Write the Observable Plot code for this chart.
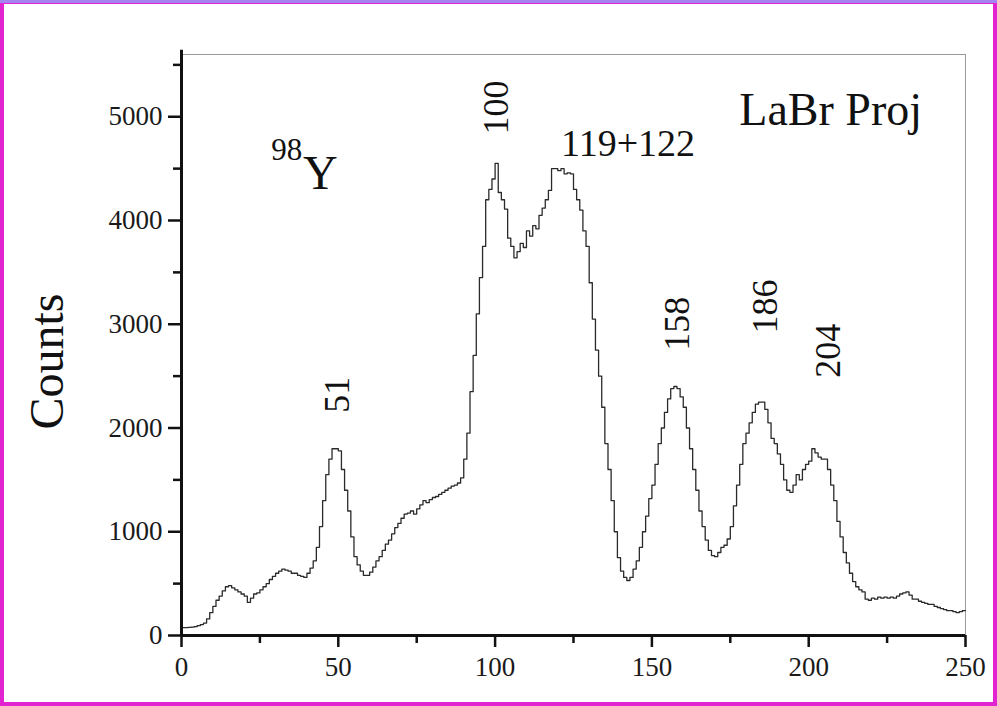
<!DOCTYPE html>
<html>
<head>
<meta charset="utf-8">
<script src="https://cdn.jsdelivr.net/npm/d3@7"></script>
<script src="https://cdn.jsdelivr.net/npm/@observablehq/plot@0.6"></script>
<style>
  html, body { margin: 0; padding: 0; background: #fff; }
  #wrap { position: relative; width: 997px; height: 706px; overflow: hidden; }
  #border { position: absolute; left: 0; top: 0; right: 0; bottom: 0; border: 4px solid #e223d2; box-sizing: border-box; pointer-events: none; }
  #topband { position: absolute; left: 0; top: 0; right: 0; height: 3px; background: #a384f0; pointer-events: none; }
  #wrap svg text { font-family: 'Liberation Serif', 'Times New Roman', serif; }
</style>
</head>
<body>
<div id="wrap"></div>
<script>
// ---- data ----
const channelStart = 0;
const counts = [
  75, 75, 78, 80, 85, 95, 105, 120, 160, 220,
  280, 340, 380, 430, 470, 480, 460, 440, 420, 400,
  380, 320, 360, 400, 410, 440, 470, 500, 540, 570,
  600, 620, 640, 630, 620, 600, 600, 580, 570, 560,
  600, 650, 720, 850, 1050, 1300, 1550, 1700, 1800, 1800,
  1780, 1600, 1400, 1200, 950, 760, 680, 620, 580, 580,
  610, 660, 720, 760, 820, 880, 920, 980, 1040, 1080,
  1130, 1170, 1180, 1200, 1170, 1220, 1260, 1300, 1280, 1310,
  1330, 1340, 1360, 1380, 1400, 1420, 1440, 1450, 1470, 1520,
  1700, 1950, 2350, 2700, 3100, 3450, 3750, 4200, 4300, 4400,
  4550, 4270, 4200, 4110, 3830, 3750, 3640, 3700, 3780, 3740,
  3900, 3850, 3950, 3920, 4050, 4120, 4200, 4290, 4500, 4500,
  4480, 4500, 4450, 4460, 4450, 4300, 4200, 4100, 3900, 3750,
  3400, 3050, 2750, 2500, 2200, 1850, 1600, 1300, 1000, 750,
  620, 560, 530, 560, 640, 720, 850, 1000, 1150, 1320,
  1450, 1650, 1850, 2000, 2150, 2280, 2380, 2400, 2380, 2300,
  2200, 2000, 1800, 1600, 1400, 1200, 1050, 920, 820, 770,
  760, 800, 850, 870, 930, 1050, 1250, 1450, 1650, 1850,
  1950, 2050, 2150, 2230, 2250, 2250, 2180, 2050, 1900, 1850,
  1750, 1650, 1500, 1400, 1380, 1450, 1550, 1500, 1600, 1650,
  1680, 1800, 1760, 1720, 1700, 1700, 1600, 1450, 1300, 1100,
  950, 800, 700, 600, 520, 470, 440, 420, 350, 340,
  360, 350, 370, 360, 370, 360, 370, 360, 380, 400,
  410, 420, 390, 350, 350, 330, 320, 310, 300, 300,
  280, 270, 260, 250, 240, 240, 230, 220, 230, 240
];
const xTicks = [0, 50, 100, 150, 200, 250];
const xMinorTicks = [25, 75, 125, 175, 225];
const yTicks = [0, 1000, 2000, 3000, 4000, 5000];
const yMinorTicks = [500, 1500, 2500, 3500, 4500, 5500];
const peakLabels = ["51", "100", "158", "186", "204"];
const doubletLabel = "119+122";
const isotopeMass = "98";
const isotopeSymbol = "Y";
const panelTitle = "LaBr Proj";
const yLabel = "Counts";

// ---- layout (annotation placement, not data) ----
const peakLabelPos = [[49.6, 2320], [100.4, 5090], [158.3, 3005], [186.3, 3170], [206.4, 2745]];

// build table
const spectrum = counts.map((c, i) => ({ch: channelStart + i, c}));
spectrum.push({ch: channelStart + counts.length, c: counts[counts.length - 1]});
const peaks = peakLabels.map((t, i) => ({t, x: peakLabelPos[i][0], y: peakLabelPos[i][1]}));

const font = "'Liberation Serif', 'Times New Roman', serif";

const chart = Plot.plot({
  width: 997,
  height: 706,
  marginLeft: 181,
  marginRight: 32,
  marginTop: 54,
  marginBottom: 71,
  style: {fontFamily: font, background: "transparent", color: "#111"},
  x: {domain: [0, 250]},
  y: {domain: [0, 5600]},
  marks: [
    Plot.ruleY([5600], {stroke: "#9a9a9a", strokeWidth: 1}),
    Plot.ruleX([250], {stroke: "#9a9a9a", strokeWidth: 1}),
    Plot.line(spectrum, {x: "ch", y: "c", curve: "step-after", stroke: "#2a2a2a", strokeWidth: 1.3}),
    Plot.axisX({ticks: xMinorTicks, tickSize: 8, tickFormat: () => "", label: null, strokeWidth: 2.5, stroke: "#111"}),
    Plot.axisX({ticks: xTicks, tickSize: 12, tickPadding: 9, fontSize: 27, tickFormat: d3.format("d"), label: null, strokeWidth: 2.5, stroke: "#111", fill: "#1a1a1a"}),
    Plot.axisY({ticks: yMinorTicks, tickSize: 8, tickFormat: () => "", label: null, strokeWidth: 2.5, stroke: "#111"}),
    Plot.axisY({ticks: yTicks, tickSize: 13, tickPadding: 6, fontSize: 27, tickFormat: d3.format("d"), label: null, strokeWidth: 2.5, stroke: "#111", fill: "#1a1a1a"}),
    Plot.ruleX([0], {y1: 0, y2: 5640, stroke: "#111", strokeWidth: 3}),
    Plot.ruleY([0], {stroke: "#111", strokeWidth: 3}),
    Plot.text(peaks, {x: "x", y: "y", text: "t", rotate: -90, fontSize: 36, textAnchor: "middle", lineAnchor: "middle", fill: "#111"}),
    Plot.text([doubletLabel], {x: 142.4, y: 4740, fontSize: 38, textAnchor: "middle", lineAnchor: "middle", fill: "#111"}),
    Plot.text([isotopeMass], {x: 33.6, y: 4680, fontSize: 31, textAnchor: "middle", lineAnchor: "middle", fill: "#111"}),
    Plot.text([isotopeSymbol], {x: 44.3, y: 4450, fontSize: 48, textAnchor: "middle", lineAnchor: "middle", fill: "#111"}),
    Plot.text([panelTitle], {x: 207, y: 5060, fontSize: 46, textAnchor: "middle", lineAnchor: "middle", fill: "#111"}),
    Plot.text([yLabel], {x: 0, y: 2640, dx: -134, rotate: -90, fontSize: 48, textAnchor: "middle", lineAnchor: "middle", fill: "#111"})
  ]
});
const wrap = document.getElementById("wrap");
wrap.appendChild(chart);
const b = document.createElement("div"); b.id = "border"; wrap.appendChild(b);
const t = document.createElement("div"); t.id = "topband"; wrap.appendChild(t);
</script>
</body>
</html>
